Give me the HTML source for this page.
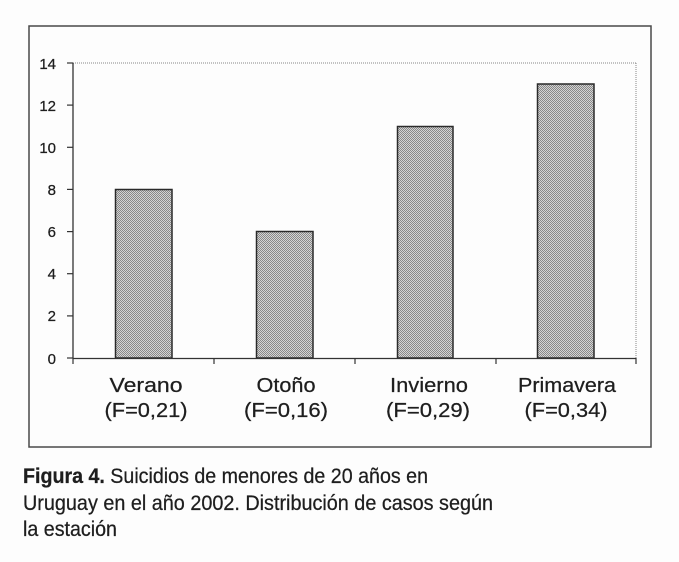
<!DOCTYPE html>
<html><head><meta charset="utf-8"><style>
html,body{margin:0;padding:0;background:#fdfdfd;}
svg{display:block;}
text{font-family:"Liberation Sans",Arial,sans-serif;fill:#1e1e1e;stroke:#1e1e1e;stroke-width:0.25;}
</style></head><body>
<svg width="679" height="562" viewBox="0 0 679 562" xmlns="http://www.w3.org/2000/svg">
<defs>
<pattern id="chk" width="2" height="2" patternUnits="userSpaceOnUse">
<rect width="2" height="2" fill="#d4d4d4"/>
<rect width="1" height="1" fill="#888"/>
<rect x="1" y="1" width="1" height="1" fill="#888"/>
</pattern>
</defs>
<rect width="679" height="562" fill="#fdfdfd"/>
<!-- outer frame -->
<rect x="29" y="26" width="622" height="421" fill="none" stroke="#4a4a4a" stroke-width="1.5"/>
<!-- plot area border dotted -->
<line x1="73" y1="63" x2="636" y2="63" stroke="#888" stroke-width="1" stroke-dasharray="1,1"/>
<line x1="636" y1="63" x2="636" y2="358" stroke="#888" stroke-width="1" stroke-dasharray="1,1"/>
<!-- bars -->
<rect x="115.5" y="189.5" width="56.5" height="168.5" fill="url(#chk)" stroke="#2a2a2a" stroke-width="1.5"/>
<rect x="256.5" y="231.5" width="56.5" height="126.5" fill="url(#chk)" stroke="#2a2a2a" stroke-width="1.5"/>
<rect x="397.5" y="126.5" width="55.5" height="231.5" fill="url(#chk)" stroke="#2a2a2a" stroke-width="1.5"/>
<rect x="537.5" y="84" width="56.5" height="274" fill="url(#chk)" stroke="#2a2a2a" stroke-width="1.5"/>
<!-- axes -->
<line x1="73" y1="63" x2="73" y2="358.5" stroke="#333" stroke-width="1.3"/>
<line x1="73" y1="358.5" x2="636" y2="358.5" stroke="#333" stroke-width="1.3"/>
<!-- y ticks -->
<g stroke="#333" stroke-width="1.2">
<line x1="67" y1="63" x2="73" y2="63"/>
<line x1="67" y1="105.1" x2="73" y2="105.1"/>
<line x1="67" y1="147.3" x2="73" y2="147.3"/>
<line x1="67" y1="189.4" x2="73" y2="189.4"/>
<line x1="67" y1="231.6" x2="73" y2="231.6"/>
<line x1="67" y1="273.7" x2="73" y2="273.7"/>
<line x1="67" y1="315.9" x2="73" y2="315.9"/>
<line x1="67" y1="358" x2="73" y2="358"/>
<!-- x ticks -->
<line x1="73" y1="358" x2="73" y2="364"/>
<line x1="214" y1="358" x2="214" y2="364"/>
<line x1="355" y1="358" x2="355" y2="364"/>
<line x1="496" y1="358" x2="496" y2="364"/>
<line x1="636" y1="358" x2="636" y2="364"/>
</g>
<!-- y labels -->
<g font-size="15" text-anchor="end">
<text x="56" y="69">14</text>
<text x="56" y="111">12</text>
<text x="56" y="153">10</text>
<text x="56" y="195">8</text>
<text x="56" y="237">6</text>
<text x="56" y="279">4</text>
<text x="56" y="321">2</text>
<text x="56" y="364">0</text>
</g>
<!-- category labels -->
<g font-size="20" text-anchor="middle">
<text x="146" y="392" textLength="73" lengthAdjust="spacingAndGlyphs">Verano</text>
<text x="146" y="417" textLength="83" lengthAdjust="spacingAndGlyphs">(F=0,21)</text>
<text x="286" y="392" textLength="59" lengthAdjust="spacingAndGlyphs">Otoño</text>
<text x="286" y="417" textLength="84" lengthAdjust="spacingAndGlyphs">(F=0,16)</text>
<text x="429" y="392" textLength="78" lengthAdjust="spacingAndGlyphs">Invierno</text>
<text x="428" y="417" textLength="84" lengthAdjust="spacingAndGlyphs">(F=0,29)</text>
<text x="567" y="392" textLength="98" lengthAdjust="spacingAndGlyphs">Primavera</text>
<text x="566" y="417" textLength="83" lengthAdjust="spacingAndGlyphs">(F=0,34)</text>
</g>
<!-- caption -->
<g font-size="21">
<text x="23" y="483" textLength="405" lengthAdjust="spacingAndGlyphs"><tspan font-weight="bold">Figura 4.</tspan> Suicidios de menores de 20 años en</text>
<text x="23" y="510" textLength="470" lengthAdjust="spacingAndGlyphs">Uruguay en el año 2002. Distribución de casos según</text>
<text x="23" y="536" textLength="94" lengthAdjust="spacingAndGlyphs">la estación</text>
</g>
</svg>
</body></html>
